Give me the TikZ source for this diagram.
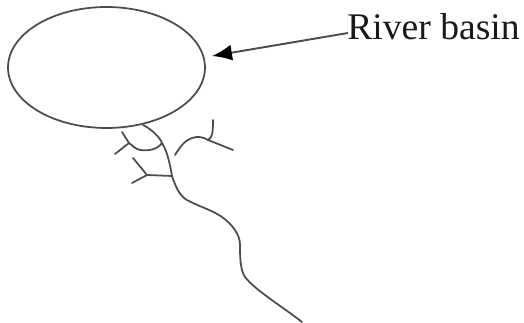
\documentclass[tikz,border=0pt]{standalone}
\usepackage{fontspec}
\setmainfont{Liberation Serif}
\usetikzlibrary{positioning, shapes.geometric, arrows.meta}
\tikzset{
	stream/.style={draw=black!70,line width=1pt,line cap=round,line join=round},
	pointer/.style={draw=black!70,line width=1.1pt,-{Latex[length=0.4cm,width=0.32cm,black]}}
}

\begin{document}
\begin{tikzpicture}[x=0.02cm,y=-0.02cm]
	\useasboundingbox (0,0) rectangle (524,323);
	\draw node (basin)[ellipse,draw=black!70,line width=1pt,inner sep=0pt,minimum width=3.94cm,minimum height=2.42cm] at (106.5,67.5){};
	\draw node (label)[inner sep=0pt,anchor=base west,font=\fontsize{21.4}{24}\selectfont,text=black!90] at (347,40){River basin};
	\coordinate (tip) at (212,56);
	\coordinate (start) at (348,33);
	\draw[pointer] (start)--(tip);
	% main channel
	\coordinate (outlet) at (143,125);
	\coordinate (j1) at (162,143);
	\coordinate (j2) at (172,176);
	\coordinate (mouth) at (302,322);
	\draw[stream] (outlet) .. controls (153,130) and (160,138) .. (j1)
		.. controls (168,153) and (170,165) .. (j2)
		.. controls (176,188) and (180,196) .. (187,200)
		.. controls (200,207) and (212,210) .. (222,217)
		.. controls (233,225) and (240,235) .. (240,245)
		.. controls (240,255) and (240,270) .. (245,277)
		.. controls (255,290) and (280,305) .. (mouth);
	% first tributary
	\coordinate (f1) at (129,143);
	\draw[stream] (j1) .. controls (157,150) and (148,151) .. (140,150) .. controls (135,149) and (132,145) .. (f1);
	\draw[stream] (f1)--(122,132);
	\draw[stream] (f1)--(115,154);
	% second tributary
	\coordinate (f2) at (147,175);
	\draw[stream] (j2)--(f2);
	\draw[stream] (f2)--(133,158);
	\draw[stream] (f2)--(132,183);
	% upper tributary, not joined to the main channel
	\coordinate (f3) at (208,140);
	\draw[stream] (175,155) .. controls (180,147) and (185,140) .. (192,138) .. controls (198,136) and (203,137) .. (f3);
	\draw[stream] (f3) .. controls (212,137) and (213,135) .. (213,120);
	\draw[stream] (f3)--(233,150);
\end{tikzpicture}
\end{document}
